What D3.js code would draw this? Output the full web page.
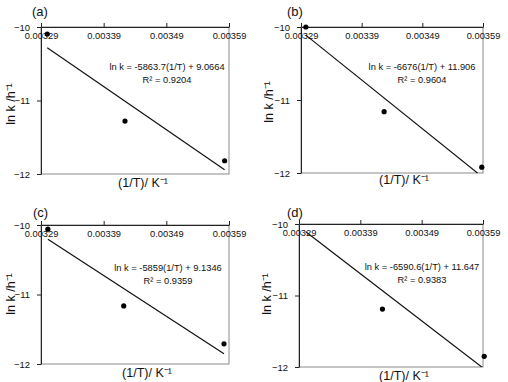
<!DOCTYPE html>
<html>
<head>
<meta charset="utf-8">
<script src="https://cdn.jsdelivr.net/npm/d3@7"></script>
<style>
  body { margin: 0; background: #fff; }
  text { font-family: "Liberation Sans", Arial, sans-serif; fill: #111; }
</style>
</head>
<body>
<div id="container"></div>
<script>
/* DATA */
const panelLabels = ["(a)", "(b)", "(c)", "(d)"];
// 1/T values (K^-1)
const invT = [
  [0.003300, 0.003424, 0.003583],
  [0.003298, 0.003427, 0.003588],
  [0.003301, 0.003422, 0.003582],
  [0.003301, 0.003426, 0.003592]
];
// ln k values (h^-1)
const lnK = [
  [-10.095, -11.28, -11.82],
  [-10.0, -11.16, -11.92],
  [-10.06, -11.165, -11.71],
  [-9.93, -11.19, -11.85]
];
const slopes = [-5863.7, -6676, -5859, -6590.6];
const intercepts = [9.0664, 11.906, 9.1346, 11.647];
const equations = [
  "ln k = -5863.7(1/T) + 9.0664",
  "ln k = -6676(1/T) + 11.906",
  "ln k = -5859(1/T) + 9.1346",
  "ln k = -6590.6(1/T) + 11.647"
];
const rSquared = ["0.9204", "0.9604", "0.9359", "0.9383"];
const xTicks = [0.00329, 0.00339, 0.00349, 0.00359];
const yTicks = [-10, -11, -12];
const xTitle = "(1/T)/ K\u207B\u00B9";
const yTitle = "ln k /h\u207B\u00B9";

/* CONSTANTS AND GLOBALS */
const width = 508;
const height = 382;

// plot rectangles for each panel
const boxes = [
  { l: 41, t: 27, r: 229, b: 174, eqX: 167, eqY: 67, labX: 32, labY: 16, xtY: 183, xtX: 143, ytX: 11, ytY: 104 },
  { l: 301, t: 27, r: 483, b: 173, eqX: 422, eqY: 67, labX: 287, labY: 16, xtY: 180, xtX: 404, ytX: 269, ytY: 102 },
  { l: 41, t: 225, r: 229, b: 364, eqX: 168, eqY: 268, labX: 33, labY: 217, xtY: 373, xtX: 147, ytX: 11, ytY: 294 },
  { l: 299, t: 224, r: 483, b: 367, eqX: 422, eqY: 267, labX: 287, labY: 217, xtY: 376, xtX: 404, ytX: 267, ytY: 294 }
];

const svg = d3.select("#container")
  .append("svg")
  .attr("width", width)
  .attr("height", height)
  .style("background-color", "white");

panelLabels.forEach((lab, i) => {
  const bx = boxes[i];

  const xScale = d3.scaleLinear()
    .domain([xTicks[0], xTicks[xTicks.length - 1]])
    .range([bx.l, bx.r]);

  const yScale = d3.scaleLinear()
    .domain([-12, -10])
    .range([bx.b, bx.t]);

  const g = svg.append("g");

  // clip for the trendline
  svg.append("clipPath").attr("id", "clip" + i)
    .append("rect")
    .attr("x", bx.l).attr("y", bx.t)
    .attr("width", bx.r - bx.l).attr("height", bx.b - bx.t);

  // plot border
  g.append("rect")
    .attr("x", bx.l).attr("y", bx.t)
    .attr("width", bx.r - bx.l).attr("height", bx.b - bx.t)
    .attr("fill", "none")
    .attr("stroke", "#8a8a8a")
    .attr("stroke-width", 1);

  // x axis sits at the top (y = -10), labels below the line
  const xAxis = d3.axisBottom(xScale)
    .tickValues(xTicks)
    .tickFormat(d3.format(".5f"))
    .tickSizeInner(-4)
    .tickSizeOuter(0)
    .tickPadding(5);

  g.append("g")
    .attr("transform", `translate(0,${bx.t})`)
    .call(xAxis)
    .call(a => a.select(".domain").attr("stroke", "#222"))
    .call(a => a.selectAll(".tick line").attr("stroke", "#222"))
    .call(a => a.selectAll("text").attr("font-size", 9.3).attr("fill", "#111")
      .style("font-family", "Liberation Sans, Arial, sans-serif"));

  const yAxis = d3.axisLeft(yScale)
    .tickValues(yTicks)
    .tickFormat(d3.format("d"))
    .tickSizeInner(4)
    .tickSizeOuter(0)
    .tickPadding(7);

  g.append("g")
    .attr("transform", `translate(${bx.l},0)`)
    .call(yAxis)
    .call(a => a.select(".domain").attr("stroke", "#222"))
    .call(a => a.selectAll(".tick line").attr("stroke", "#222"))
    .call(a => a.selectAll("text").attr("font-size", 9.5).attr("fill", "#111")
      .style("font-family", "Liberation Sans, Arial, sans-serif"));

  // trendline across the range of the data
  const xr = d3.extent(invT[i]);
  const fit = xr.map(x => [x, slopes[i] * x + intercepts[i]]);
  g.append("path")
    .datum(fit)
    .attr("clip-path", `url(#clip${i})`)
    .attr("fill", "none")
    .attr("stroke", "#111")
    .attr("stroke-width", 1.2)
    .attr("d", d3.line().x(d => xScale(d[0])).y(d => yScale(d[1])));

  // points (those outside the axis range are not shown)
  const pts = invT[i].map((x, j) => ({ x: x, y: lnK[i][j] }))
    .filter(d => d.y <= -10 + 1e-9 && d.y >= -12);
  g.selectAll(".dot")
    .data(pts)
    .join("circle")
    .attr("class", "dot")
    .attr("cx", d => xScale(d.x))
    .attr("cy", d => yScale(d.y))
    .attr("r", 2.6)
    .attr("fill", "#000");

  // equation and R^2
  g.append("text")
    .attr("x", bx.eqX).attr("y", bx.eqY)
    .attr("text-anchor", "middle")
    .attr("dy", "0.35em")
    .attr("font-size", 9.3)
    .text(equations[i]);
  g.append("text")
    .attr("x", bx.eqX).attr("y", bx.eqY + 13)
    .attr("text-anchor", "middle")
    .attr("dy", "0.35em")
    .attr("font-size", 9.3)
    .text("R\u00B2 = " + rSquared[i]);

  // panel label
  g.append("text")
    .attr("x", bx.labX).attr("y", bx.labY)
    .attr("font-size", 13)
    .text(lab);

  // axis titles
  g.append("text")
    .attr("x", bx.xtX).attr("y", bx.xtY)
    .attr("text-anchor", "middle")
    .attr("dy", "0.35em")
    .attr("font-size", 12.5)
    .text(xTitle);

  g.append("text")
    .attr("transform", `translate(${bx.ytX},${bx.ytY}) rotate(-90)`)
    .attr("text-anchor", "middle")
    .attr("dy", "0.35em")
    .attr("font-size", 12.5)
    .text(yTitle);
});
</script>
</body>
</html>
